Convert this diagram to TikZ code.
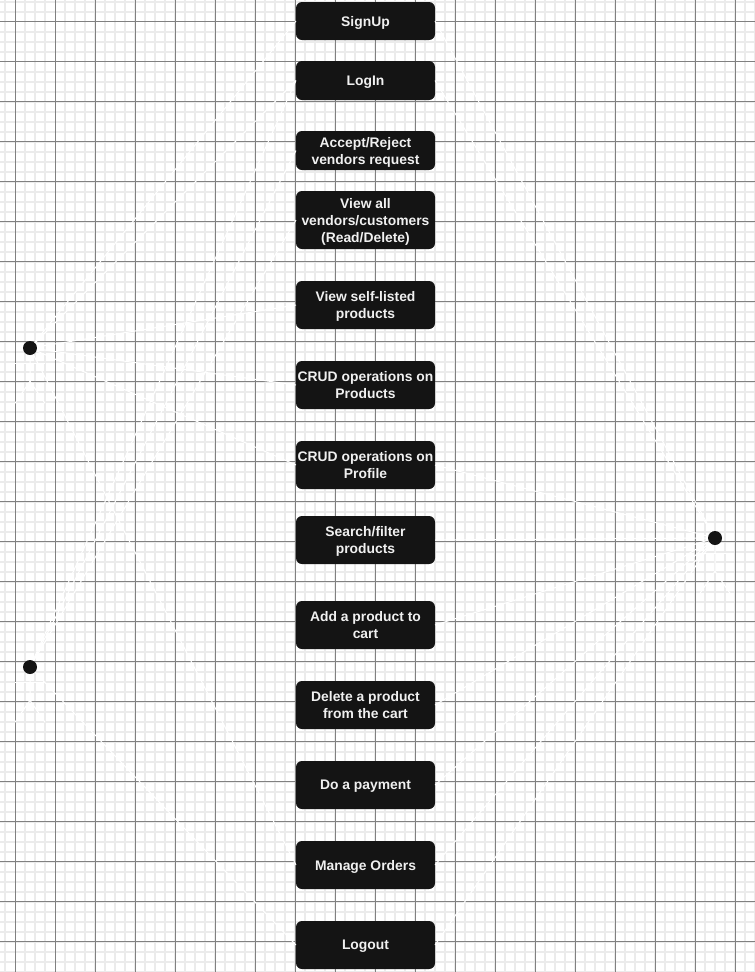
\documentclass[tikz,border=0pt]{standalone}
\usepackage{fontspec}
\setmainfont{Liberation Sans}
\usetikzlibrary{positioning}

\begin{document}
\begin{tikzpicture}[
        x=0.75pt, y=-0.75pt,
        minorline/.style={draw=black!8, line width=1.2pt},
        majorline/.style={draw=black!50, line width=0.75pt},
        usecase/.style={rectangle, rounded corners=4.5pt, fill=black!92, text=white!94!black, font=\bfseries\fontsize{10.4}{12.75}\selectfont, align=center, minimum width=104.25pt, inner sep=1pt, outer sep=0pt, text depth=0pt},
        actorhead/.style={circle, fill=black!92, minimum size=10.5pt, inner sep=0pt},
        actorbody/.style={draw=white, line width=0.75pt},
        link/.style={draw=white, line width=0.75pt},
    ]
    % background and grid
    \fill[white] (0,0) rectangle (755,972);
    \useasboundingbox (0,0) rectangle (755,972);
    \foreach \gx in {5,25,35,45,65,75,85,...,755} \draw[minorline] (\gx,0) -- (\gx,972);
    \foreach \gy in {1.7,11.7,31.7,41.7,51.7,71.7,81.7,91.7,...,972} \draw[minorline] (0,\gy) -- (755,\gy);
    \foreach \gx in {15,55,...,755} \draw[majorline] (\gx,0) -- (\gx,972);
    \foreach \gy in {21.7,61.7,...,972} \draw[majorline] (0,\gy) -- (755,\gy);

    % use cases
    \node[usecase, minimum height=28.5pt] (signup) at (365.5,21) {SignUp};
    \node[usecase, minimum height=29.25pt] (login)   [below=15.75pt of signup]  {LogIn};
    \node[usecase, minimum height=29.25pt] (accept)  [below=23.25pt of login]   {Accept/Reject\\vendors request};
    \node[usecase, minimum height=43.5pt]  (viewall) [below=15.75pt of accept]  {View all\\vendors/customers\\(Read/Delete)};
    \node[usecase, minimum height=36pt]    (viewself) [below=24pt of viewall]   {View self-listed\\products};
    \node[usecase, minimum height=36pt]    (crudprod) [below=24pt of viewself]  {CRUD operations on\\Products};
    \node[usecase, minimum height=36pt]    (crudprof) [below=24pt of crudprod]  {CRUD operations on\\Profile};
    \node[usecase, minimum height=36pt]    (search)   [below=20.25pt of crudprof] {Search/filter\\products};
    \node[usecase, minimum height=36pt]    (addcart)  [below=27.75pt of search] {Add a product to\\cart};
    \node[usecase, minimum height=36pt]    (delcart)  [below=24pt of addcart]   {Delete a product\\from the cart};
    \node[usecase, minimum height=36pt]    (payment)  [below=24pt of delcart]   {Do a payment};
    \node[usecase, minimum height=36pt]    (orders)   [below=24pt of payment]   {Manage Orders};
    \node[usecase, minimum height=36pt]    (logout)   [below=24pt of orders]    {Logout};

    % actors
    \node[actorhead] (vendor)   at (30,348) {};
    \node[actorhead] (admin)    at (30,667) {};
    \node[actorhead] (customer) at (715,538) {};
    \foreach \act in {vendor,admin,customer} {
        \draw[actorbody] (\act.south) -- ++(0,26) -- ++(-15,22);
        \draw[actorbody] (\act.south) ++(0,26) -- ++(15,22);
        \draw[actorbody] (\act.south) ++(-15,8) -- ++(30,0);
    }

    % connections
    \foreach \uc in {signup,login,viewself,crudprod,crudprof,orders}
        \path[link] (vendor) edge (\uc.west);
    \foreach \uc in {login,accept,viewall,logout}
        \path[link] (admin) edge (\uc.west);
    \foreach \uc in {signup,login,crudprof,search,addcart,delcart,payment,orders,logout}
        \path[link] (customer) edge (\uc.east);
\end{tikzpicture}
\end{document}
